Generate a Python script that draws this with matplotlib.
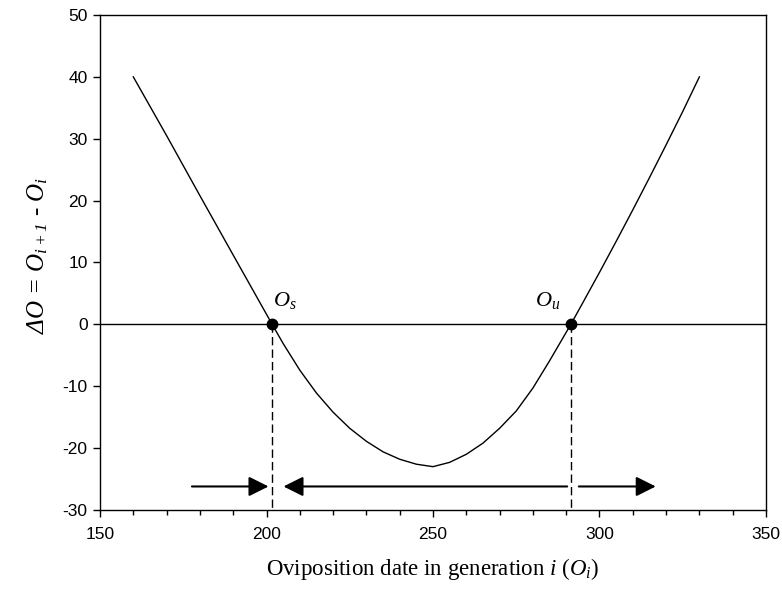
"""
Delta-O vs oviposition date: stable (Os) / unstable (Ou) equilibria.
"""
import matplotlib
matplotlib.use("Agg")
import matplotlib.pyplot as plt
from matplotlib.ticker import MultipleLocator

# ─────────────────────────────────────────────────────────────────────────────
# Data
# ─────────────────────────────────────────────────────────────────────────────
OVI_DATE = [160, 170, 180, 190, 201.7, 205, 210, 215, 220, 225, 230, 235,
            240, 245, 250, 255, 260, 265, 270, 275, 280, 285, 291.4,
            295, 300, 305, 310, 315, 320, 325, 330]
DELTA_O  = [40, 30.5, 20.8, 11.2, 0, -3.1, -7.4, -11.1, -14.2, -16.8, -18.9,
            -20.6, -21.8, -22.6, -23.0, -22.3, -21.0, -19.2, -16.8, -14.0,
            -10.3, -5.9, 0, 3.5, 8.4, 13.4, 18.5, 23.7, 29.0, 34.4, 40]

EQ_X      = [201.7, 291.4]          # Os, Ou
EQ_LABELS = [r"$O_s$", r"$O_u$"]
LABEL_X   = [205.5, 284.5]
LABEL_Y   = 3.9

ARROW_Y      = -26.2
ARROW_STARTS = [177.6, 290.3, 293.8]
ARROW_ENDS   = [200.6, 205.1, 316.9]

XLIM = (150, 350)
YLIM = (-30, 50)

# ─────────────────────────────────────────────────────────────────────────────
# Style
# ─────────────────────────────────────────────────────────────────────────────
plt.rcParams["font.family"] = ["Liberation Sans", "DejaVu Sans"]
plt.rcParams["axes.unicode_minus"] = False
plt.rcParams["mathtext.fontset"] = "custom"
plt.rcParams["mathtext.rm"] = "Liberation Serif:italic"
plt.rcParams["mathtext.it"] = "Liberation Serif:italic"

fig = plt.figure(figsize=(7.82, 5.93), dpi=100)
ax = fig.add_axes([0.1279, 0.14, 0.8516, 0.8347])

ax.axhline(0, color="black", lw=1.0, zorder=1)
ax.plot(OVI_DATE, DELTA_O, color="black", lw=1.0, zorder=2)

for x in EQ_X:
    ax.plot([x, x], [0, YLIM[0]], color="black", lw=1.0,
            ls=(0, (6, 3)), zorder=1)
ax.plot(EQ_X, [0, 0], "o", color="black", markersize=7.5, zorder=3)

for lx, lab in zip(LABEL_X, EQ_LABELS):
    ax.text(lx, LABEL_Y, lab, fontsize=16, ha="center", va="center")

for x0, x1 in zip(ARROW_STARTS, ARROW_ENDS):
    ax.annotate("", xy=(x1, ARROW_Y), xytext=(x0, ARROW_Y),
                arrowprops=dict(arrowstyle="-|>,head_length=0.6,head_width=0.3",
                                mutation_scale=20, color="black", lw=1.5,
                                shrinkA=0, shrinkB=0))

ax.set_xlim(*XLIM)
ax.set_ylim(*YLIM)
ax.xaxis.set_major_locator(MultipleLocator(50))
ax.xaxis.set_minor_locator(MultipleLocator(10))
ax.yaxis.set_major_locator(MultipleLocator(10))
ax.tick_params(axis="both", which="major", direction="out", length=5,
               width=1, labelsize=12.5, pad=4)
ax.tick_params(axis="x", which="major", pad=7)
ax.tick_params(axis="x", which="minor", direction="out", length=3.5, width=1)
for sp in ax.spines.values():
    sp.set_linewidth(1.0)

ax.set_xlabel(r"Oviposition date in generation $i$ ($O_i$)",
              family="Liberation Serif", fontsize=16.5, labelpad=10)
ax.set_ylabel(r"$\Delta O$ = $O_{i+1}$ - $O_i$", family="Liberation Serif",
              style="italic", fontsize=18)
ax.yaxis.set_label_coords(-0.075, 0.515)

fig.savefig("out.png", dpi=100)
